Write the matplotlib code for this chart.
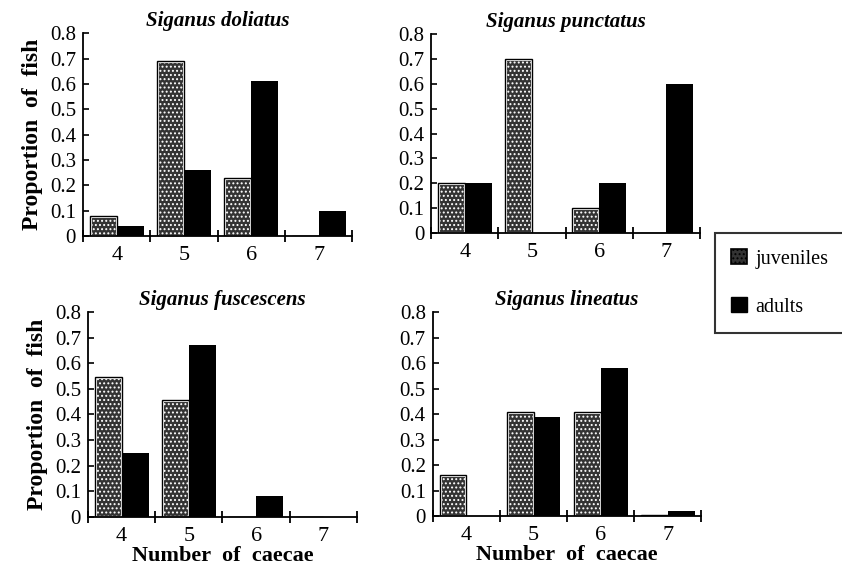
import numpy as np
import matplotlib
matplotlib.use("Agg")
import matplotlib.pyplot as plt
from matplotlib.patches import Patch

plt.rcParams['font.family'] = ['Liberation Serif', 'DejaVu Serif']
plt.rcParams['font.weight'] = 'bold'
plt.rcParams['hatch.linewidth'] = 0.9

caecae = [4, 5, 6, 7]
species = ["Siganus doliatus", "Siganus punctatus", "Siganus fuscescens", "Siganus lineatus"]
juveniles = [
    [0.08, 0.69, 0.23, 0.0],
    [0.20, 0.70, 0.10, 0.0],
    [0.545, 0.455, 0.0, 0.0],
    [0.16, 0.41, 0.41, 0.005],
]
adults = [
    [0.04, 0.26, 0.61, 0.10],
    [0.20, 0.0, 0.20, 0.60],
    [0.25, 0.67, 0.08, 0.0],
    [0.0, 0.39, 0.58, 0.02],
]
yticks = [0, 0.1, 0.2, 0.3, 0.4, 0.5, 0.6, 0.7, 0.8]
ylabels = ['0', '0.1', '0.2', '0.3', '0.4', '0.5', '0.6', '0.7', '0.8']

# axes rectangles in figure fractions (left, bottom, width, height)
rects = [
    (0.0986, 0.5845, 0.320, 0.357),
    (0.512, 0.5898, 0.3195, 0.350),
    (0.1045, 0.0898, 0.3195, 0.361),
    (0.514, 0.0915, 0.319, 0.359),
]

fig = plt.figure(figsize=(8.42, 5.68), dpi=100)
x = np.array(caecae, dtype=float)
w = 0.4

for i in range(4):
    ax = fig.add_axes(rects[i])
    ax.bar(x - w / 2, juveniles[i], w, color='#333333', edgecolor='white',
           hatch='....', linewidth=2.2, zorder=2)
    ax.bar(x - w / 2, juveniles[i], w, fill=False, edgecolor='black',
           linewidth=1.0, zorder=3)
    ax.bar(x + w / 2, adults[i], w, color='black', linewidth=0, zorder=2)

    ax.set_xlim(3.5, 7.5)
    ax.set_ylim(0, 0.8)
    ax.set_yticks(yticks)
    ax.set_yticklabels(ylabels, fontsize=15, fontweight='normal')
    ax.set_xticks(caecae)
    ax.set_xticklabels([str(c) for c in caecae], fontsize=16, fontweight='normal')
    ax.set_xticks([3.5, 4.5, 5.5, 6.5, 7.5], minor=True)
    ax.tick_params(axis='x', which='major', length=0, pad=7)
    ax.tick_params(axis='x', which='minor', direction='inout', length=9, width=1.3)
    ax.tick_params(axis='y', direction='in', length=4, width=1.2, pad=5)
    for s in ['top', 'right']:
        ax.spines[s].set_visible(False)
    for s in ['left', 'bottom']:
        ax.spines[s].set_linewidth(1.3)
    ax.set_title(species[i], fontsize=15, fontstyle='italic', fontweight='bold', pad=5)
    if i % 2 == 0:
        ax.set_ylabel("Proportion  of  fish", fontsize=17, fontweight='bold', labelpad=5)
    if i >= 2:
        ax.set_xlabel("Number  of  caecae", fontsize=16, fontweight='bold', labelpad=0)

handles = [
    Patch(facecolor='#333333', edgecolor='black', hatch='....', linewidth=1.2),
    Patch(facecolor='black', edgecolor='black'),
]
leg = fig.legend(handles, ['juveniles', 'adults'], loc='upper left',
                 bbox_to_anchor=(0.849, 0.405, 0.2, 0.185), mode='expand',
                 fontsize=14.5, frameon=True, fancybox=False, handlelength=0.8,
                 handleheight=0.8, handletextpad=0.4, labelspacing=1.4,
                 borderpad=0.8, borderaxespad=0)
leg.get_frame().set_edgecolor('black')
leg.get_frame().set_linewidth(1.5)
for t in leg.get_texts():
    t.set_fontweight('normal')

fig.savefig("out.png", dpi=100)
